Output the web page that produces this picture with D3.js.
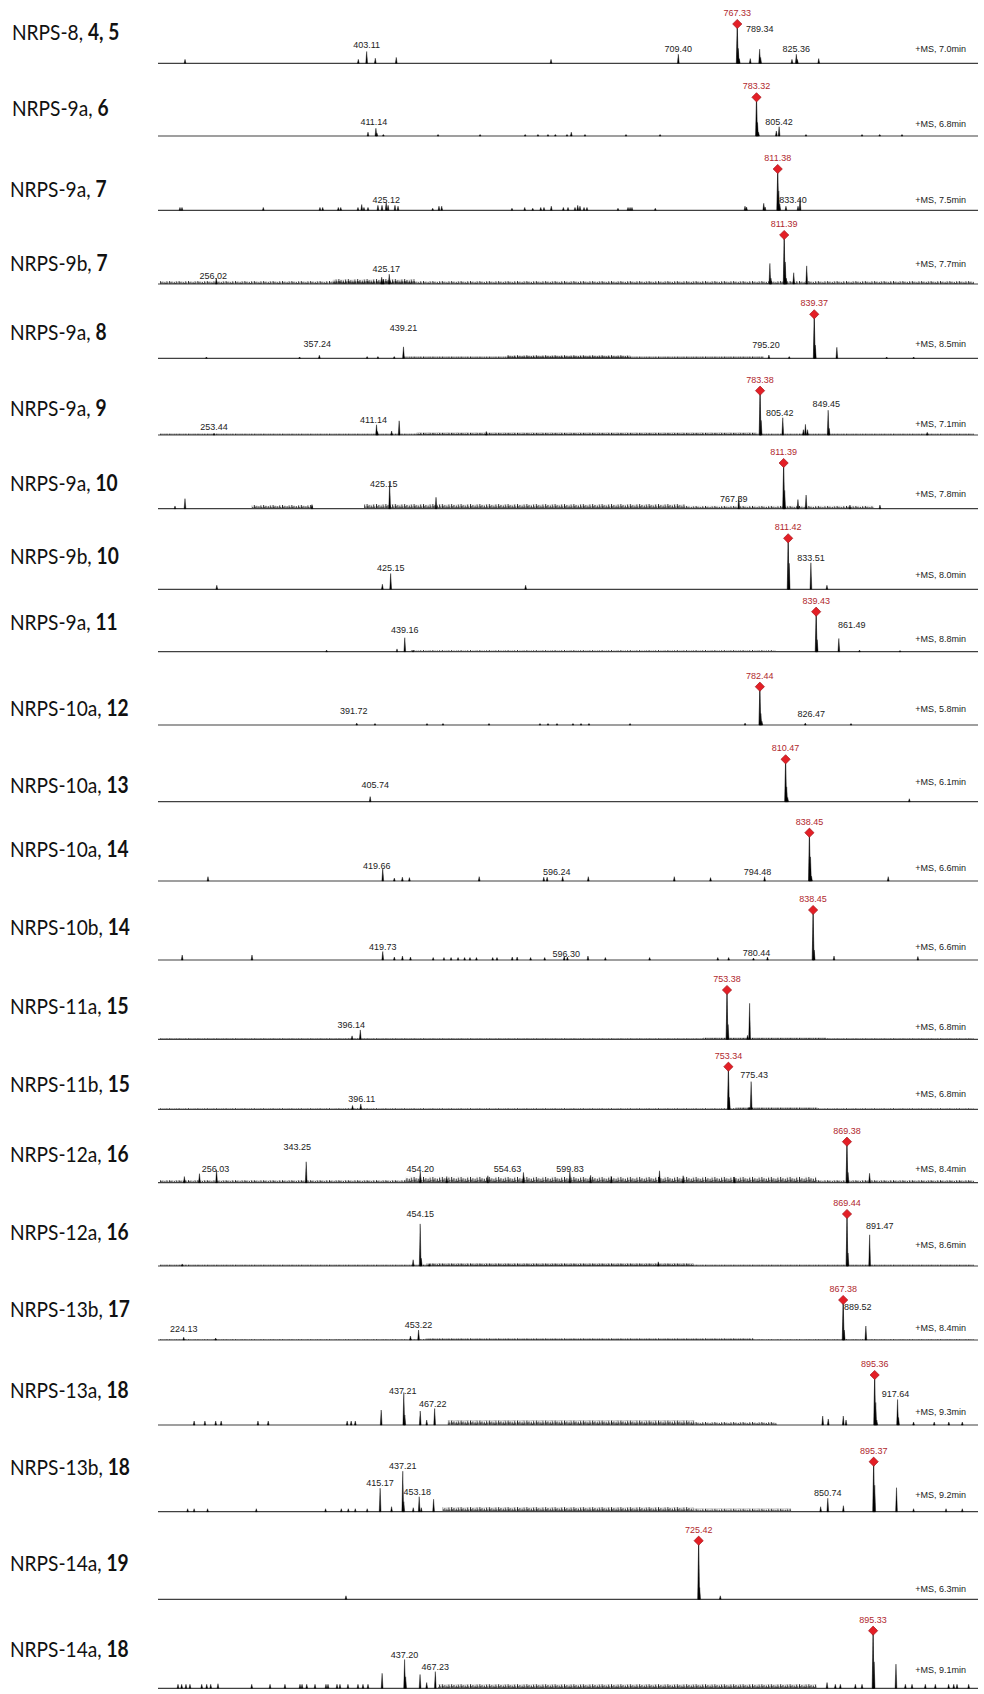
<!DOCTYPE html>
<html>
<head>
<meta charset="utf-8">
<script src="https://cdn.jsdelivr.net/npm/d3@7"></script>
<style>
  body { margin: 0; background: #fff; }
  svg text { font-family: "Liberation Sans", Arial, sans-serif; }
  .title { font-family: Lato, "Open Sans", sans-serif; font-size: 22px; fill: #111; }
  .peak-label { font-size: 9px; fill: #222; text-anchor: middle; }
  .base-label { font-size: 9px; fill: #b0282d; text-anchor: middle; }
  .ms-label { font-size: 9px; fill: #222; text-anchor: end; }
</style>
</head>
<body>
<svg id="chart" width="984" height="1694"></svg>
<script>
// ---- data ----
var sampleNames = ["NRPS-8", "NRPS-9a", "NRPS-9a", "NRPS-9b", "NRPS-9a", "NRPS-9a", "NRPS-9a", "NRPS-9b",
  "NRPS-9a", "NRPS-10a", "NRPS-10a", "NRPS-10a", "NRPS-10b", "NRPS-11a", "NRPS-11b", "NRPS-12a",
  "NRPS-12a", "NRPS-13b", "NRPS-13a", "NRPS-13b", "NRPS-14a", "NRPS-14a"];
var compounds = ["4, 5", "6", "7", "7", "8", "9", "10", "10", "11", "12", "13", "14", "14", "15", "15",
  "16", "16", "17", "18", "18", "19", "18"];
var retentionTimes = ["7.0", "6.8", "7.5", "7.7", "8.5", "7.1", "7.8", "8.0", "8.8", "5.8", "6.1", "6.6",
  "6.6", "6.8", "6.8", "8.4", "8.6", "8.4", "9.3", "9.2", "6.3", "9.1"];
// m/z range shown across each trace
var mzRanges = [[200, 1000], [200, 996], [202, 1005], [201, 997], [202, 995], [201, 991], [200, 998],
  [201, 992], [201, 993], [201, 990], [201, 994], [201, 1000], [203, 995], [201, 994], [201, 992],
  [201, 993], [201, 993], [201, 995], [200, 992], [201, 993], [200, 994], [198, 994]];
// base peak (red diamond), intensity 100
var basePeaks = [767.33, 783.32, 811.38, 811.39, 839.37, 783.38, 811.39, 811.42, 839.43, 782.44, 810.47,
  838.45, 838.45, 753.38, 753.34, 869.38, 869.44, 867.38, 895.36, 895.37, 725.42, 895.33];
// annotated peaks [m/z, relative intensity]
var labeledPeaks = [
  [[403.11, 30], [709.40, 23], [789.34, 36], [825.36, 23]],
  [[411.14, 20], [805.42, 24]],
  [[425.12, 19], [833.40, 27]],
  [[256.02, 12], [425.17, 20]],
  [[357.24, 7], [439.21, 26], [795.20, 7.5]],
  [[253.44, 4], [411.14, 23], [805.42, 39], [849.45, 56]],
  [[425.15, 58], [767.39, 26]],
  [[425.15, 31], [833.51, 52]],
  [[439.16, 35], [861.49, 33]],
  [[391.72, 5], [826.47, 5]],
  [[405.74, 12]],
  [[419.66, 26], [596.24, 9], [794.48, 9]],
  [[419.73, 17], [596.30, 7], [780.44, 4]],
  [[396.14, 19]],
  [[396.11, 12.5], [775.43, 65]],
  [[256.03, 31], [343.25, 51], [454.20, 27], [554.63, 25], [599.83, 27]],
  [[454.15, 81], [891.47, 60]],
  [[224.13, 7], [453.22, 25], [889.52, 35]],
  [[437.21, 65], [467.22, 33], [917.64, 51]],
  [[415.17, 47], [437.21, 81], [453.18, 30], [850.74, 27]],
  [],
  [[437.20, 50], [467.23, 29]]
];
// unannotated peaks [m/z, relative intensity]
var minorPeaks = [
  [[224.6, 10], [394.9, 10], [411.6, 13], [432.2, 15], [584.3, 10], [768.33, 38], [769.3, 12], [780.1, 12],
   [790.3, 15], [821.1, 10], [826.4, 10], [847.4, 12]],
  [[403.4, 10], [412.1, 8], [418.4, 4], [471.9, 4], [513, 4], [557.1, 4], [569.6, 4], [579.4, 4], [586.6, 4],
   [598, 4], [602.2, 10], [615.6, 4], [655.7, 4], [689, 4], [784.3, 35], [785.3, 10], [802.7, 13],
   [831.7, 4], [886.5, 4], [903.8, 4], [925.6, 4]],
  [[221.7, 7], [223.7, 7], [303.9, 7], [359.8, 7], [362.5, 7], [377.9, 7], [380.3, 7], [397.3, 7], [401, 14],
   [403.2, 7], [407.2, 7], [417, 12], [421, 12], [427, 12], [433.8, 12], [436.8, 10], [471, 5], [477.2, 10],
   [479.9, 10], [549.2, 5], [561.8, 7], [569.7, 5], [577.6, 7], [580.8, 7], [588, 10], [599.9, 7], [604.5, 7],
   [611.4, 7], [614.1, 12], [616.3, 10], [620.3, 7], [623.2, 7], [653.8, 5], [663.7, 7], [665.7, 7],
   [667.6, 7], [690.6, 5], [779.1, 10], [780.6, 8], [797.6, 17], [798.9, 8], [812.4, 47], [813.4, 15],
   [819.5, 10], [831.4, 10]],
  [[417.8, 14], [419.4, 10], [797.4, 42], [798.4, 12], [812.4, 45], [813.4, 12], [820.7, 23], [833.4, 37]],
  [[247.2, 3], [338, 3], [403.8, 4], [414.3, 4], [430.2, 4], [815, 4], [840.4, 30], [861.4, 25],
   [909.9, 3], [936.2, 3]],
  [[425.8, 9], [412.1, 8], [433.1, 32], [517.7, 8], [784.4, 33], [825.4, 12], [827.4, 24], [829.4, 12],
   [850.4, 15], [945.6, 6]],
  [[214.7, 6], [224.5, 22], [349, 9], [470.6, 25], [812.4, 40], [825.4, 20], [833.4, 30], [876.4, 8],
   [905.8, 8]],
  [[256.2, 8], [417.1, 10], [556.3, 8], [812.4, 51], [849.1, 8]],
  [[363.1, 4], [431.6, 7], [447.2, 4], [840.4, 30], [881.6, 4], [921, 3]],
  [[409.4, 4], [459.8, 4], [475.3, 4], [519.9, 4], [569.3, 4], [577.1, 4], [585.8, 4], [601.3, 4],
   [609.1, 4], [616.8, 4], [656.6, 4], [768.1, 5], [783.4, 30], [784.4, 10], [870.8, 4]],
  [[811.5, 35], [812.5, 10], [931, 7]],
  [[248.1, 9], [431, 6], [438.9, 8], [445.8, 7], [514.3, 9], [577.7, 8], [581, 8], [621.4, 9], [705.8, 9],
   [741.4, 7], [839.5, 50], [840.5, 10], [915.8, 9]],
  [[224.6, 10], [292.5, 10], [431, 6], [438.9, 8], [446.7, 6], [468.8, 5], [479.3, 5], [486.2, 5], [493, 5],
   [499.4, 5], [504.6, 5], [510.9, 5], [526.7, 5], [530.9, 5], [545.7, 6], [550.5, 6], [563.6, 5],
   [577.3, 5], [599.4, 6], [619.4, 8], [636.3, 5], [679.4, 5], [745.7, 5], [756.3, 5], [794.1, 6],
   [839.5, 20], [858.8, 8], [940.4, 7]],
  [[388.1, 7], [754.4, 30], [773.4, 8], [775.4, 73]],
  [[388.1, 9], [754.3, 28], [773.4, 5]],
  [[224.7, 15], [239.4, 22], [480, 15], [520, 17], [620, 18], [640, 16], [687, 29], [710, 17], [760, 14],
   [870.4, 25], [891.4, 23]],
  [[222.6, 4], [447.3, 12], [455.2, 15], [463.1, 4], [685.8, 8], [870.4, 25]],
  [[255.3, 5], [445.3, 10], [868.4, 25]],
  [[233.2, 8], [243.7, 8], [254.2, 8], [259.5, 8], [295.3, 8], [305.3, 8], [382.1, 8], [386, 8], [390, 8],
   [415.2, 30], [438.2, 20], [453.2, 28], [459.5, 10], [844.8, 18], [850.2, 12], [864.8, 18], [867.5, 10],
   [896.4, 45], [897.4, 10], [918.6, 15], [933.2, 6], [953.3, 6], [967.5, 6], [980.6, 6]],
  [[227.9, 6], [234.2, 6], [247.3, 6], [294.7, 6], [362.1, 6], [377.4, 6], [384.2, 6], [391, 6], [402.6, 6],
   [426.3, 10], [438.2, 20], [447.4, 8], [455.2, 8], [467.2, 25], [843.8, 10], [865.9, 12], [896.4, 53],
   [917.6, 48], [934.2, 6], [965.8, 6], [981.6, 6]],
  [[381.4, 6], [726.4, 20], [746.5, 6]],
  [[215.6, 7], [219.2, 7], [223.4, 7], [227.3, 7], [238.8, 7], [243.7, 7], [247.6, 7], [254.7, 8],
   [287.7, 7], [305.6, 7], [320.2, 7], [334.9, 7], [336.9, 7], [341.5, 7], [349.6, 7], [360.3, 7],
   [362.3, 7], [371.1, 7], [374, 7], [381.8, 7], [391.6, 7], [396.5, 7], [401.4, 7], [415.2, 26],
   [438.2, 20], [452.3, 24], [458.8, 10], [850.3, 10], [858.4, 7], [863.3, 7], [878, 7], [884.5, 7],
   [896.3, 46], [917.7, 42], [926.9, 7], [933.4, 7], [946.4, 7], [956.2, 7], [969.2, 7], [974.2, 7],
   [977.4, 7], [988.8, 7]]
];
// dense low-level noise [from m/z, to m/z, level]
var noiseBands = [
  [], [], [],
  [[201, 997, 6], [370, 450, 10]],
  [[440, 790, 4], [540, 660, 7]],
  [[201, 991, 3], [450, 780, 5]],
  [[290, 350, 8], [400, 715, 10], [715, 900, 6]],
  [],
  [[201, 445, 1.5], [445, 800, 4]],
  [], [], [], [],
  [[201, 994, 2], [730, 850, 3]],
  [[201, 992, 2.5], [760, 840, 4]],
  [[201, 440, 6], [440, 840, 14], [840, 993, 6]],
  [[201, 993, 2.5], [460, 720, 5]],
  [[201, 995, 2], [460, 780, 4]],
  [[480, 720, 9], [720, 800, 6]],
  [[476, 720, 9], [720, 815, 6]],
  [],
  [[470, 840, 7]]
];

// ---- layout ----
var baselineY = [63.3, 136, 210.3, 284, 358.3, 435, 508.7, 589.3, 651.7, 725, 801.7, 881, 960, 1039.3,
  1109.3, 1182.7, 1266, 1340, 1425, 1511.7, 1599.3, 1688.3];
var fullHeight = [39.3, 38.7, 41.3, 49, 44, 44.3, 45.7, 51, 40, 38.3, 42.4, 48.3, 50, 49.3, 42.6, 41, 52,
  40, 50, 50, 58.6, 57.6];
var titleY = [40.4, 116, 197, 270.5, 339.6, 416.3, 490.8, 564.2, 630.1, 715.5, 793.2, 857, 934.7, 1013.6,
  1092.4, 1161.5, 1240.4, 1317, 1398, 1474.8, 1571, 1657.3];
var msLabelY = [51.5, 127.3, 203.3, 266.7, 346.7, 426.7, 497.3, 578.3, 641.7, 712.3, 785, 871, 950, 1030,
  1097.3, 1171.7, 1248.3, 1330.7, 1415, 1498.3, 1591.7, 1672.7];
// label nudges [dx, lift] for the annotated peaks
var labelShift = [
  [[0, 2], [0, 0], [0, 15], [0, 0]],
  [[-2, 1], [0, 0]],
  [[0, -3], [-7, -6]],
  [[-3, -3], [-3, 0]],
  [[-2, 6], [0, 14], [-3, 5]],
  [[0, 1], [-3, 0], [-3, 0], [-2, 1]],
  [[-6, -7], [-5, -7]],
  [[0, 0], [0, 0]],
  [[0, 3], [13, 9]],
  [[-3, 7], [6, 4]],
  [[5, 7]],
  [[-6, -3], [-6, 0], [-7, 0]],
  [[0, 0], [2, -2], [3, 0]],
  [[-9, 0]],
  [[1, 0], [3, 2]],
  [[-1, -4], [-9, 10], [0, -2], [-16, -2], [0, -2]],
  [[0, 5], [10, 4]],
  [[0, 3], [0, 0], [-8, 14]],
  [[-1, -3], [-2, 0], [-2, 1]],
  [[0, 0], [0, 0], [-2, 0], [0, 0]],
  [],
  [[0, 0], [0, 0]]
];
// comb used to texture the noise bands: [x offset, share of band height]
var grassTeeth = [[0.5, 1], [1.7, 0.55], [2.8, 0.8], [3.9, 0.35], [5.0, 0.7], [6.1, 0.3], [7.2, 0.9], [8.3, 0.5]];

var svg = d3.select("#chart");
var defs = svg.append("defs");

sampleNames.forEach(function (name, i) {
  var base = baselineY[i];
  var x = d3.scaleLinear().domain(mzRanges[i]).range([160, 974]);
  var y = d3.scaleLinear().domain([0, 100]).range([base, base - fullHeight[i]]);
  var g = svg.append("g").attr("class", "panel");

  function spike(d) {
    var px = x(d[0]), top = y(d[1]);
    return "M" + (px - 0.9) + "," + base + "L" + px + "," + top + "L" + (px + 0.9) + "," + base + "Z";
  }

  // title (narrowed to match the original face)
  var t = g.append("text").attr("class", "title")
    .attr("transform", "translate(" + (i < 2 ? 12 : 10) + "," + titleY[i] + ") scale(0.87,1)");
  t.append("tspan").text(name + ", ");
  t.append("tspan").attr("font-weight", "bold").text(compounds[i]);

  // noise grass
  noiseBands[i].forEach(function (b, j) {
    var bh = base - y(b[2]);
    var id = "noise-" + i + "-" + j;
    var p = defs.append("pattern").attr("id", id)
      .attr("patternUnits", "userSpaceOnUse")
      .attr("x", 0).attr("y", base - bh)
      .attr("width", 9.4).attr("height", bh);
    p.selectAll("line").data(grassTeeth).enter().append("line")
      .attr("x1", function (d) { return d[0]; }).attr("x2", function (d) { return d[0]; })
      .attr("y1", function (d) { return bh * (1 - d[1]); }).attr("y2", bh)
      .attr("stroke", "#111").attr("stroke-width", 0.9);
    g.append("rect")
      .attr("x", x(b[0])).attr("width", x(b[1]) - x(b[0]))
      .attr("y", base - bh).attr("height", bh)
      .attr("fill", "url(#" + id + ")");
  });

  // baseline
  g.append("line")
    .attr("x1", x.range()[0] - 2).attr("x2", x.range()[1] + 4)
    .attr("y1", base).attr("y2", base)
    .attr("stroke", "#404040").attr("stroke-width", 1.2);

  // peaks
  g.selectAll("path.minor")
    .data(minorPeaks[i].concat(labeledPeaks[i]))
    .enter().append("path")
    .attr("class", "minor")
    .attr("d", spike)
    .attr("fill", "#000").attr("stroke", "#000").attr("stroke-width", 0.4);

  // base peak with diamond
  var bx = x(basePeaks[i]), by = y(100);
  g.append("path").attr("d", spike([basePeaks[i], 100]))
    .attr("fill", "#000").attr("stroke", "#000").attr("stroke-width", 0.6);
  g.append("path")
    .attr("d", "M" + bx + "," + (by - 4.6) + "L" + (bx + 4.6) + "," + by + "L" + bx + "," + (by + 4.6) +
      "L" + (bx - 4.6) + "," + by + "Z")
    .attr("fill", "#e41f26").attr("stroke", "#a3141a").attr("stroke-width", 0.7);
  g.append("text").attr("class", "base-label")
    .attr("x", bx).attr("y", by - 8)
    .text(basePeaks[i].toFixed(2));

  // peak annotations
  g.selectAll("text.peak-label")
    .data(labeledPeaks[i])
    .enter().append("text")
    .attr("class", "peak-label")
    .attr("x", function (d, k) { return x(d[0]) + labelShift[i][k][0]; })
    .attr("y", function (d, k) { return y(d[1]) - 2 - labelShift[i][k][1]; })
    .text(function (d) { return d[0].toFixed(2); });

  g.append("text").attr("class", "ms-label")
    .attr("x", 966).attr("y", msLabelY[i])
    .text("+MS, " + retentionTimes[i] + "min");
});
</script>
</body>
</html>
